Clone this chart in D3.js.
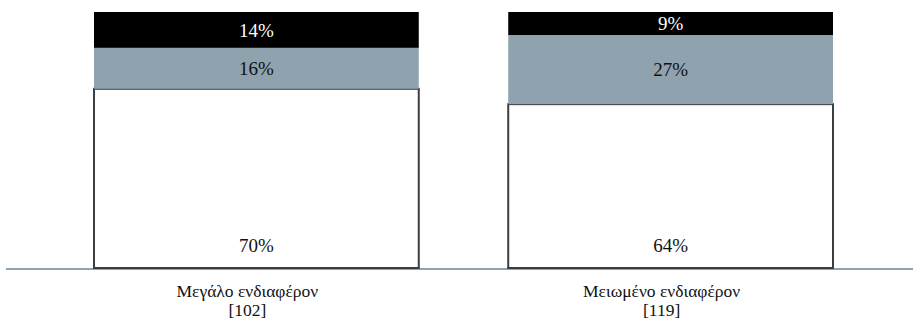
<!DOCTYPE html>
<html>
<head>
<meta charset="utf-8">
<script src="https://cdn.jsdelivr.net/npm/d3@7"></script>
<style>
  html, body { margin: 0; padding: 0; background: #fff; }
  svg { display: block; }
  text { font-family: "Liberation Serif", "DejaVu Serif", serif; }
</style>
</head>
<body>
<svg id="chart" width="913" height="324"></svg>
<script>
// Share of respondents per response level, for each interest group
const categories = ["Μεγάλο ενδιαφέρον", "Μειωμένο ενδιαφέρον"];
const sampleSizes = ["[102]", "[119]"];
const seriesKeys = ["base", "middle", "top"];
const baseValues = [70, 64];
const middleValues = [16, 27];
const topValues = [14, 9];

const seriesFill = { base: "#ffffff", middle: "#8fa3ae", top: "#000000" };
const labelFill = { base: "#111111", middle: "#111111", top: "#ffffff" };

const rows = categories.map((c, i) => ({
  category: c,
  n: sampleSizes[i],
  base: baseValues[i],
  middle: middleValues[i],
  top: topValues[i]
}));

const svg = d3.select("#chart");
const width = 913, height = 324;
const plotTop = 12, baseline = 268;

const x = d3.scaleBand()
  .domain(categories)
  .range([94, 833])
  .paddingInner(0.216)
  .paddingOuter(0);

const y = d3.scaleLinear().domain([0, 100]).range([baseline, plotTop]);

const stacked = d3.stack().keys(seriesKeys)(rows);

const bw = x.bandwidth();
const barX = d => x(d.data.category);

const layers = svg.append("g")
  .selectAll("g")
  .data(stacked)
  .join("g")
  .attr("fill", s => seriesFill[s.key]);

layers.selectAll("rect")
  .data(s => s.map(d => Object.assign(d, { key: s.key })))
  .join("rect")
  .attr("x", d => barX(d))
  .attr("width", bw)
  .attr("y", d => y(d[1]))
  .attr("height", d => y(d[0]) - y(d[1]))
  .attr("stroke", d => d.key === "base" ? "#3b3f42" : "none")
  .attr("stroke-width", 2);

// Baseline
svg.append("line")
  .attr("x1", 6).attr("x2", width)
  .attr("y1", baseline + 1).attr("y2", baseline + 1)
  .attr("stroke", "#8fa3ae")
  .attr("stroke-width", 2);

// Bottom edges of the bars drawn over the baseline
svg.append("g").selectAll("line")
  .data(stacked[0])
  .join("line")
  .attr("x1", d => barX(d) - 1)
  .attr("x2", d => barX(d) + bw + 1)
  .attr("y1", baseline).attr("y2", baseline)
  .attr("stroke", "#3b3f42")
  .attr("stroke-width", 2);

// Segment value labels
layers.selectAll("text")
  .data(s => s)
  .join("text")
  .attr("x", d => barX(d) + bw / 2)
  .attr("y", d => d.key === "base" ? baseline - 23 : (y(d[0]) + y(d[1])) / 2)
  .attr("dy", "0.35em")
  .attr("text-anchor", "middle")
  .attr("font-size", 19)
  .attr("fill", d => labelFill[d.key])
  .text(d => (d[1] - d[0]) + "%");

// Category labels with sample size underneath
const catX = d => x(d.category) + bw / 2 - 9;
const catG = svg.append("g")
  .attr("font-size", 17.5)
  .attr("fill", "#111")
  .attr("text-anchor", "middle");

catG.selectAll("text.name")
  .data(rows)
  .join("text")
  .attr("class", "name")
  .attr("x", catX)
  .attr("y", 297)
  .text(d => d.category);

catG.selectAll("text.n")
  .data(rows)
  .join("text")
  .attr("class", "n")
  .attr("x", catX)
  .attr("y", 316)
  .text(d => d.n);
</script>
</body>
</html>
